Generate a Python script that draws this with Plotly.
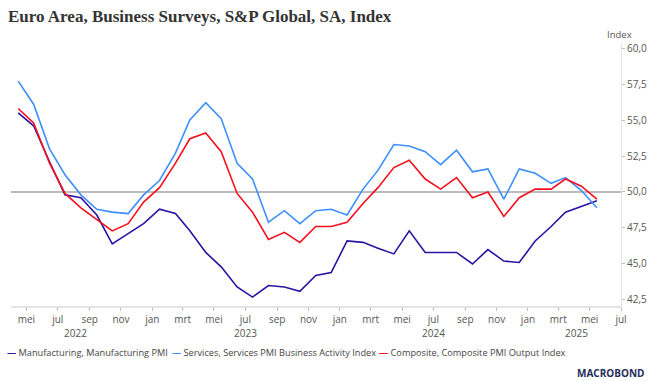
import pandas as pd
import plotly.graph_objects as go

# Monthly data, April 2022 - May 2025
start_month = "2022-04"
manufacturing = [55.5, 54.6, 52.1, 49.8, 49.6, 48.4, 46.4, 47.1, 47.8,
                 48.8, 48.5, 47.3, 45.8, 44.8, 43.4, 42.7, 43.5, 43.4, 43.1, 44.2, 44.4,
                 46.6, 46.5, 46.1, 45.7, 47.3, 45.8, 45.8, 45.8, 45.0, 46.0, 45.2, 45.1,
                 46.6, 47.6, 48.6, 49.0, 49.4]
services = [57.7, 56.1, 53.0, 51.2, 49.8, 48.8, 48.6, 48.5, 49.8,
            50.8, 52.7, 55.0, 56.2, 55.1, 52.0, 50.9, 47.9, 48.7, 47.8, 48.7, 48.8,
            48.4, 50.2, 51.5, 53.3, 53.2, 52.8, 51.9, 52.9, 51.4, 51.6, 49.5, 51.6,
            51.3, 50.6, 51.0, 50.1, 48.9]
composite = [55.8, 54.8, 52.0, 49.9, 48.9, 48.1, 47.3, 47.8, 49.3,
             50.3, 52.0, 53.7, 54.1, 52.8, 49.9, 48.6, 46.7, 47.2, 46.5, 47.6, 47.6,
             47.9, 49.2, 50.3, 51.7, 52.2, 50.9, 50.2, 51.0, 49.6, 50.0, 48.3, 49.6,
             50.2, 50.2, 50.9, 50.4, 49.5]

series_names = ["Manufacturing, Manufacturing PMI",
                "Services, Services PMI Business Activity Index",
                "Composite, Composite PMI Output Index"]
series_colors = ["#2b12a3", "#3d8ffc", "#f5101e"]

dutch_months = ["jan", "feb", "mrt", "apr", "mei", "jun",
                "jul", "aug", "sep", "okt", "nov", "dec"]
years = ["2022", "2023", "2024", "2025"]
y_ticks = [42.5, 45.0, 47.5, 50.0, 52.5, 55.0, 57.5, 60.0]

# x positions: mid-month
month_starts = pd.date_range(start_month + "-01", periods=len(manufacturing), freq="MS")
x = month_starts + pd.Timedelta(days=14)

tick_dates = pd.date_range("2022-05-01", "2025-07-01", freq="2MS")
tick_text = [dutch_months[d.month - 1] for d in tick_dates]

W, H = 652, 381
L, R, T, B = 11, 31, 43, 75
pw, ph = W - L - R, H - T - B


def px_x(p):
    return (p - L) / pw


def px_y(p):
    return (H - B - p) / ph


fig = go.Figure()
for name, vals, col in zip(series_names, [manufacturing, services, composite], series_colors):
    fig.add_trace(go.Scatter(x=x, y=vals, mode="lines", name=name, showlegend=False,
                             line=dict(color=col, width=1.6)))

fig.add_shape(type="line", xref="paper", x0=0, x1=1, yref="y", y0=50, y1=50,
              line=dict(color="#a6a6a6", width=1.5), layer="below")

fig.update_layout(
    width=W, height=H,
    margin=dict(l=L, r=R, t=T, b=B, autoexpand=False),
    paper_bgcolor="white", plot_bgcolor="white",
    font=dict(family="Open Sans", size=10, color="#555555"),
    title=dict(text="<b>Euro Area, Business Surveys, S&P Global, SA, Index</b>",
               x=8 / W, xanchor="left", xref="container",
               y=1 - 16 / H, yanchor="middle", yref="container",
               pad=dict(l=0, t=0, r=0, b=0),
               font=dict(family="Liberation Serif", size=17, color="#333333")),
    showlegend=False,
    xaxis=dict(type="date", range=["2022-04-01", "2025-07-01"],
               tickvals=tick_dates, ticktext=tick_text,
               ticks="outside", ticklen=3, tickcolor="#bbbbbb",
               showline=True, linecolor="#e3e3e3", linewidth=1.5,
               showgrid=False, zeroline=False, automargin=False,
               tickfont=dict(size=10, color="#555555")),
    yaxis=dict(side="right", range=[42.08, 60.35], tickvals=y_ticks,
               ticktext=[f"{v:.1f}".replace(".", ",") for v in y_ticks],
               ticks="outside", ticklen=3, tickcolor="#bbbbbb",
               showline=True, linecolor="#e3e3e3", linewidth=1,
               showgrid=False, zeroline=False, automargin=False,
               tickfont=dict(size=10, color="#555555")),
)

year_pos = ["2022-08-05", "2023-07-01", "2024-07-01", "2025-04-05"]
for yr, pos in zip(years, year_pos):
    fig.add_annotation(text=yr, x=pos, xref="x", y=px_y(333), yref="paper",
                       showarrow=False, yanchor="middle",
                       font=dict(size=10, color="#555555"))

fig.add_annotation(text="Index", x=px_x(619), xref="paper", xanchor="center",
                   y=px_y(34), yref="paper", yanchor="middle", showarrow=False,
                   font=dict(size=9.5, color="#555555"))

# legend drawn as text entries
legend_x = [5, 170, 377]
for name, col, lx in zip(series_names, series_colors, legend_x):
    fig.add_annotation(
        text=f"<span style='color:{col}'><b>—</b></span> {name}",
        x=px_x(lx), xref="paper", xanchor="left",
        y=px_y(352), yref="paper", yanchor="middle", showarrow=False,
        font=dict(size=9.2, color="#444444"))

fig.add_annotation(text="<b>MACROBOND</b>", x=px_x(610), xref="paper", xanchor="center",
                   y=px_y(373), yref="paper", yanchor="middle", showarrow=False,
                   font=dict(family="Open Sans", size=10, color="#1f2c5c"))

fig.write_html("out.html", config={"displayModeBar": False},
               post_script="document.body.style.margin='0';")
